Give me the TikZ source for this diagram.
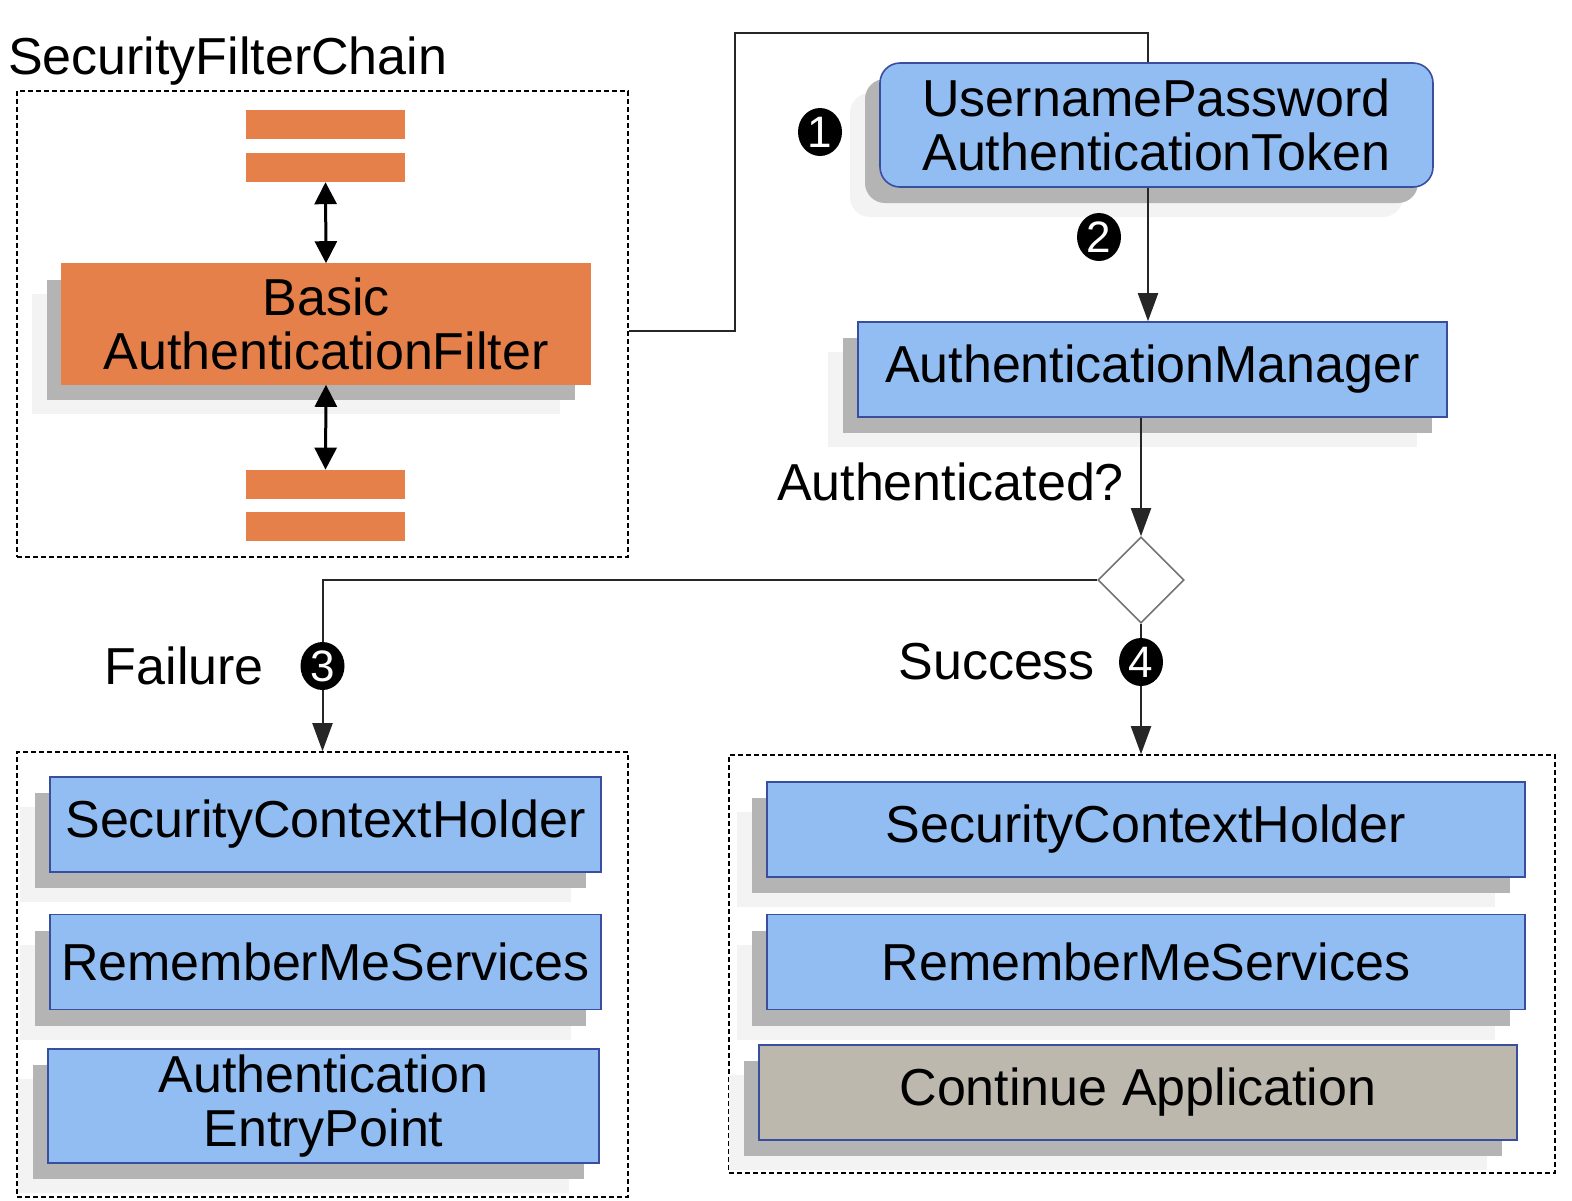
\documentclass[tikz,border=0pt]{standalone}
\usepackage{fontspec}
\setmainfont{Liberation Sans}
\usetikzlibrary{shapes.geometric}
\usetikzlibrary{shadows}
\usetikzlibrary{positioning}
\usetikzlibrary{arrows.meta}

\definecolor{boxblue}{RGB}{146,189,242}
\definecolor{lineblue}{RGB}{58,78,160}
\definecolor{filterorange}{RGB}{229,128,74}
\definecolor{shadowgray}{RGB}{180,180,180}
\definecolor{halogray}{RGB}{243,243,243}
\definecolor{appgray}{RGB}{188,184,173}

\begin{document}
\begin{tikzpicture}[x=0.5pt,y=-0.5pt,font=\fontsize{26}{27}\selectfont,
	conn/.style={draw=black!85,line width=1pt},
	tip/.style={-{Triangle[length=14pt,width=10pt]}},
	dbl/.style={line width=1.5pt,{Triangle[length=11pt,width=11pt]}-{Triangle[length=11pt,width=11pt]}},
	shade box/.style={drop shadow={shadow xshift=-15pt,shadow yshift=-15pt,fill=halogray,opacity=1},
		drop shadow={shadow xshift=-7.5pt,shadow yshift=-8pt,fill=shadowgray,opacity=1}},
	comp/.style={draw=lineblue,line width=0.8pt,fill=boxblue,align=center,inner sep=0pt,
		minimum width=275.5pt,minimum height=47.5pt,shade box},
	wide comp/.style={comp,minimum width=379pt},
	bar/.style={fill=filterorange,minimum width=79.5pt,minimum height=14.5pt,inner sep=0pt},
	group/.style={draw,dashed,line width=0.8pt,dash pattern=on 2.5pt off 1.5pt,inner sep=0pt},
	badge/.style={ellipse,fill=black,text=white,minimum width=22pt,minimum height=24pt,inner sep=0pt,
		font=\fontsize{22}{22}\selectfont},
	decision/.style={diamond,draw=black!55,fill=white,line width=0.8pt,minimum width=43pt,minimum height=43pt,inner sep=0pt}]

	\useasboundingbox (0,0) rectangle (1572,1200);

	% filter chain
	\node[anchor=base west] (title) at (1,74) {SecurityFilterChain};
	\node[group,minimum width=305.5pt,minimum height=233pt] (chain) at (322.5,324) {};
	\node[bar] (b1) at (325.5,124.5) {};
	\node[bar] (b2) [below=6.5pt of b1] {};
	\node[comp,fill=filterorange,draw=filterorange,minimum width=264pt,minimum height=60pt] (filter) at (326,324) {Basic\\AuthenticationFilter};
	\node[bar] (b3) at (325.5,484.5) {};
	\node[bar] (b4) [below=6pt of b3] {};
	\draw[dbl] (b2.south) -- (filter.north);
	\draw[dbl] (filter.south) -- (b3.north);

	% authentication
	\node[comp,rounded corners=10pt,minimum width=276.5pt,minimum height=62pt] (token) at (1156.5,125) {UsernamePassword\\AuthenticationToken};
	\node[comp,minimum width=294.5pt] (mgr) at (1152.5,369.5) {AuthenticationManager};
	\node[decision] (dec) at (1141,580) {};
	\coordinate (bend) at (735,33);

	\draw[conn] ([yshift=-3.5pt]chain.east) -| (bend) -| ([xshift=-4.25pt]token.north);
	\draw[conn,tip] ([xshift=-4.25pt]token.south) -- ([xshift=-4.25pt]token.south |- mgr.north);
	\draw[conn,tip] (dec.north |- mgr.south) -- (dec.north);
	\node[anchor=east] (authq) at (1131,482) {Authenticated?};

	% failure
	\node[group,minimum width=305.5pt,minimum height=222.5pt] (fail) at (322.5,974.5) {};
	\node[comp] (lsch) at (325.5,824.5) {SecurityContextHolder};
	\node[comp] (lrms) [below=20.5pt of lsch] {RememberMeServices};
	\node[comp,minimum height=57pt] (lentry) at (323.5,1106) {Authentication\\EntryPoint};

	% success
	\node[group,minimum width=413pt,minimum height=209pt] (succ) at (1142,964) {};
	\node[wide comp] (rsch) at (1146,829.5) {SecurityContextHolder};
	\node[wide comp] (rrms) [below=18pt of rsch] {RememberMeServices};
	\node[wide comp,fill=appgray] (app) at (1138,1092.5) {Continue Application};

	\draw[conn,tip] (dec.west) -| (fail.north);
	\draw[conn,tip] (dec.south) -- (dec.south |- succ.north);
	\node[anchor=east] (faillbl) at (271,666) {Failure};
	\node[anchor=east] (succlbl) at (1102,662) {Success};

	% badges
	\node[badge] (n1) at (820,132) {1};
	\node[badge] (n2) at (1099,237) {2};
	\node[badge] (n3) at (322.5,666) {3};
	\node[badge] (n4) at (1141,662) {4};
\end{tikzpicture}
\end{document}
